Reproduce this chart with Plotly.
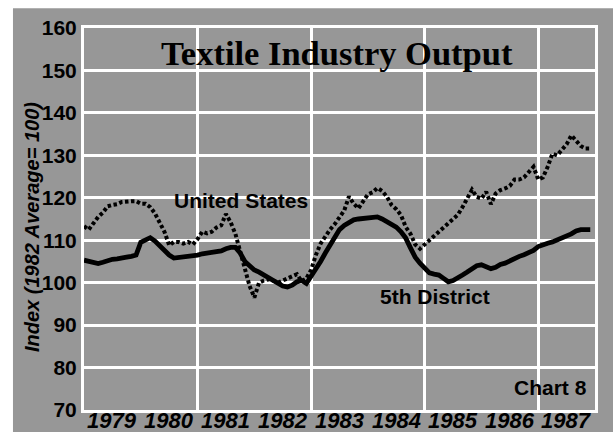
import plotly.graph_objects as go

# Monthly index values, Jan 1979 .. Dec 1987 (1982 average = 100)
months = list(range(108))
us_values = [
    113.3, 112.5, 114.0, 115.5, 116.5, 118.0, 118.3, 118.5, 119.0, 119.2, 119.2, 119.2,
    118.6, 118.6, 117.8, 116.3, 114.3, 112.0, 108.8, 109.6, 109.6, 109.2, 109.6, 109.0,
    110.3, 112.0, 111.6, 112.0, 113.0, 113.5, 116.2, 114.2, 111.5, 107.5, 103.5, 99.2,
    96.5, 100.0, 100.5, 100.8, 100.5, 100.0, 100.5, 101.0, 101.5, 102.0, 100.3, 101.0,
    103.0, 106.5, 109.2, 111.0, 112.5, 113.8, 115.5, 117.0, 120.3, 118.6, 117.5, 119.2,
    120.8, 121.3, 122.3, 121.6, 120.3, 118.3, 117.3, 115.9, 113.1, 111.5, 109.0, 108.0,
    109.0, 109.8, 111.0, 111.8, 112.8, 113.8, 115.1, 116.0, 117.8, 119.8, 121.9, 120.2,
    119.8, 121.4, 118.5, 121.0, 121.8, 122.2, 122.8, 124.3, 124.3, 124.8, 126.0, 127.3,
    124.3, 124.8, 127.3, 130.4, 130.0, 131.3, 132.6, 134.7, 133.5, 132.2, 131.6, 131.6,
]
district_values = [
    105.3, 105.0, 104.6, 104.5, 104.8, 105.2, 105.5, 105.6, 105.9, 106.0, 106.2, 106.5,
    109.5, 110.2, 110.6, 109.8, 108.6, 107.5, 106.5, 105.8, 105.9, 106.1, 106.3, 106.4,
    106.5, 106.8, 107.0, 107.0, 107.3, 107.5, 108.0, 108.3, 108.3, 107.0, 105.0, 103.8,
    103.0, 102.5, 101.8, 101.4, 100.6, 99.7, 99.2, 99.0, 99.4, 100.2, 100.5, 99.8,
    101.5, 103.0, 105.0, 107.0, 109.0, 111.0, 112.5, 113.5, 114.3, 114.8, 115.0, 115.1,
    115.1, 115.3, 115.5, 115.0, 114.3, 113.7, 113.1, 112.0, 110.5, 108.2, 106.0, 104.6,
    103.3, 102.3, 102.0, 101.8, 101.0, 100.2, 100.5, 101.0, 101.8, 102.5, 103.3, 104.0,
    104.2, 103.8, 103.3, 103.6, 104.3, 104.6, 105.2, 105.7, 106.2, 106.6, 107.1, 107.6,
    108.5, 109.0, 109.3, 109.6, 110.0, 110.5, 110.8, 111.5, 112.2, 112.5, 112.5, 112.5,
]
years = list(range(1979, 1988))
year_labels = [str(y) for y in years]
y_ticks = list(range(70, 161, 10))

x_dates = [1979 + m / 12 for m in months]

GRAY = "#979797"
SANS = "Liberation Sans"

fig = go.Figure()
fig.add_trace(go.Scatter(x=x_dates, y=district_values, mode="lines",
                         line=dict(color="black", width=4.8), name="5th District",
                         showlegend=False))
fig.add_trace(go.Scatter(x=x_dates, y=us_values, mode="lines",
                         line=dict(color="black", width=4, dash="3.5px,2.5px"),
                         name="United States", showlegend=False))

annotations = [
    dict(text="Textile Industry Output", xref="paper", yref="paper",
         x=0.496, y=(410 - 53) / 382, xanchor="center", yanchor="middle",
         showarrow=False,
         font=dict(family="Liberation Serif", size=34.5, color="black", weight="bold")),
    dict(text="Index (1982 Average= 100)", xref="paper", yref="paper",
         x=(32 - 84) / 511, y=(410 - 227) / 382, xanchor="center", yanchor="middle",
         textangle=-90, showarrow=False,
         font=dict(family=SANS, size=20, color="black", weight="bold", style="italic")),
    dict(text="United States", x=1981.76, y=119.4, xref="x", yref="y",
         showarrow=False, xanchor="center", yanchor="middle",
         font=dict(family=SANS, size=21, color="black", weight="bold")),
    dict(text="5th District", x=1985.19, y=96.8, xref="x", yref="y",
         showarrow=False, xanchor="center", yanchor="middle",
         font=dict(family=SANS, size=21, color="black", weight="bold")),
    dict(text="Chart 8", x=1987.21, y=75.2, xref="x", yref="y",
         showarrow=False, xanchor="center", yanchor="middle",
         font=dict(family=SANS, size=21, color="black", weight="bold")),
]
# year labels centred in each year band, just below the axis
for y, lab in zip(years, year_labels):
    annotations.append(dict(text=lab, x=y + 0.5, xref="x", y=(410 - 420) / 382, yref="paper",
                            showarrow=False, xanchor="center", yanchor="middle",
                            font=dict(family=SANS, size=22, color="black",
                                      weight="bold", style="italic")))

fig.update_layout(
    width=613, height=432,
    margin=dict(l=84, r=18, t=28, b=22),
    paper_bgcolor="white",
    plot_bgcolor=GRAY,
    xaxis=dict(
        range=[1979, 1988],
        showticklabels=False,
        showgrid=False,
        ticks="",
        minor=dict(tickmode="linear", tick0=1979, dtick=1, showgrid=True,
                   gridcolor="white", gridwidth=3, ticks=""),
        showline=True, linecolor="white", linewidth=3, mirror=True,
        zeroline=False, fixedrange=True, automargin=False,
    ),
    yaxis=dict(
        range=[70, 160],
        tickmode="array",
        tickvals=y_ticks,
        ticks="",
        showgrid=True, gridcolor="white", gridwidth=3,
        tickfont=dict(family=SANS, size=21, color="black", weight="bold"),
        showline=True, linecolor="white", linewidth=3, mirror=True,
        zeroline=False, fixedrange=True, automargin=False,
    ),
    shapes=[dict(type="rect", xref="paper", yref="paper",
                 x0=-0.139, x1=1.04, y0=-0.06, y1=1.052,
                 fillcolor=GRAY, line=dict(width=0), layer="below")],
    annotations=annotations,
)

fig.write_html("out.html", config={"displayModeBar": False},
               post_script="document.body.style.margin='0';document.body.style.overflow='hidden';")
